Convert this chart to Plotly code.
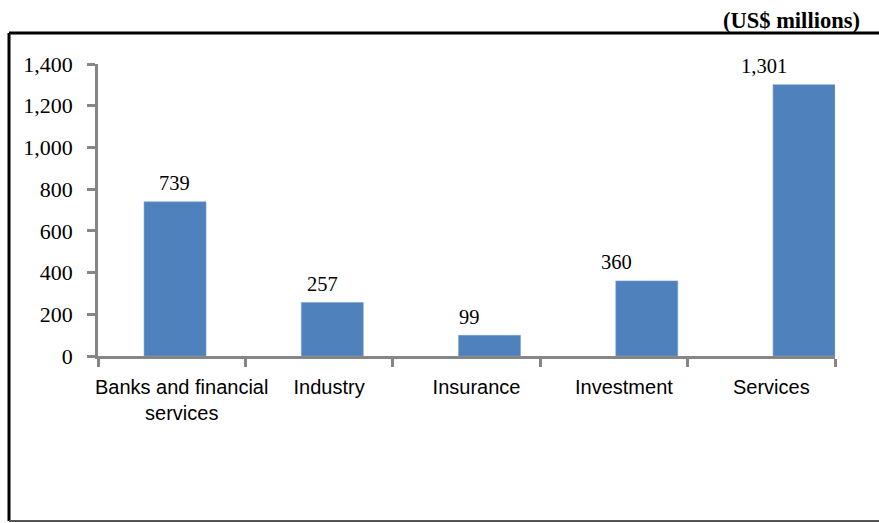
import plotly.graph_objects as go

# Sector breakdown, US$ millions
sectors = ["Banks and financial services", "Industry", "Insurance", "Investment", "Services"]
tick_labels = ["Banks and financial<br>services", "Industry", "Insurance", "Investment", "Services"]
values = [739, 257, 99, 360, 1301]

BAR_COLOR = "#4F81BD"
AXIS_COLOR = "#868686"
SERIF = "Liberation Serif, Times New Roman, serif"
SANS = "Liberation Sans, Arial, sans-serif"

W, H = 879, 523
ML, MR, MT, MB = 98, 44, 64, 167
plot_w = W - ML - MR
plot_h = H - MT - MB


def px_to_paper_x(px):
    return (px - ML) / plot_w


def px_to_paper_y(py):
    return (H - MB - py) / plot_h


fig = go.Figure()

fig.add_trace(go.Bar(
    x=sectors,
    y=values,
    width=0.394,
    marker=dict(color=BAR_COLOR, line=dict(color="#7A9FCF", width=0.6)),
    xaxis="x",
    yaxis="y",
    hoverinfo="x+y",
))

# Value labels above each category
annotations = []
for s, v in zip(sectors, values):
    annotations.append(dict(
        x=s, y=v, xref="x2", yref="y",
        text=f"{v:,}", showarrow=False,
        yanchor="middle", xanchor="center", yshift=18.5, xshift=3,
        font=dict(family=SERIF, size=20.5, color="black"),
    ))

annotations.append(dict(
    x=px_to_paper_x(862), y=px_to_paper_y(20), xref="paper", yref="paper",
    text="<b>(US$ millions)</b>", showarrow=False,
    xanchor="right", yanchor="middle",
    font=dict(family=SERIF, size=22.5, color="black"),
))

# Outer frame around the chart
frame_left = px_to_paper_x(9)
frame_top = px_to_paper_y(33)
frame_bottom = px_to_paper_y(521)
frame_right = px_to_paper_x(884)
shapes = [
    dict(type="line", xref="paper", yref="paper", x0=frame_left, x1=frame_right,
         y0=frame_top, y1=frame_top, line=dict(color="black", width=3)),
    dict(type="line", xref="paper", yref="paper", x0=frame_left, x1=frame_left,
         y0=frame_top, y1=frame_bottom, line=dict(color="black", width=3)),
    dict(type="line", xref="paper", yref="paper", x0=frame_left, x1=frame_right,
         y0=frame_bottom, y1=frame_bottom, line=dict(color="#555555", width=2)),
]

fig.update_layout(
    width=W, height=H,
    margin=dict(l=ML, r=MR, t=MT, b=MB),
    paper_bgcolor="white", plot_bgcolor="white",
    showlegend=False,
    annotations=annotations,
    shapes=shapes,
    xaxis=dict(
        type="category", categoryorder="array", categoryarray=sectors,
        range=[-0.49, 4.197], visible=False, fixedrange=True,
    ),
    xaxis2=dict(
        type="category", categoryorder="array", categoryarray=sectors,
        overlaying="x", anchor="y", side="bottom",
        range=[-0.5, 4.5],
        tickmode="array", tickvals=sectors, ticktext=tick_labels,
        tickangle=0,
        tickson="boundaries", ticks="outside", ticklen=8, tickwidth=2.5,
        tickcolor=AXIS_COLOR,
        showline=True, linecolor=AXIS_COLOR, linewidth=2.5,
        showgrid=False, zeroline=False,
        ticklabelshift=10, ticklabelstandoff=11,
        tickfont=dict(family=SANS, size=20, color="black"),
    ),
    yaxis=dict(
        range=[0, 1400], tickmode="linear", tick0=0, dtick=200,
        tickformat=",", ticks="outside", ticklen=8, tickwidth=2.5,
        tickcolor=AXIS_COLOR,
        showline=True, linecolor=AXIS_COLOR, linewidth=2.5,
        showgrid=False, zeroline=False,
        ticklabelstandoff=10,
        tickfont=dict(family=SERIF, size=22, color="black"),
    ),
)

# Empty trace so the secondary x axis is drawn
fig.add_trace(go.Scatter(x=sectors, y=[None] * len(sectors), xaxis="x2", yaxis="y",
                         mode="markers", hoverinfo="skip", showlegend=False))

fig.write_html("out.html")
